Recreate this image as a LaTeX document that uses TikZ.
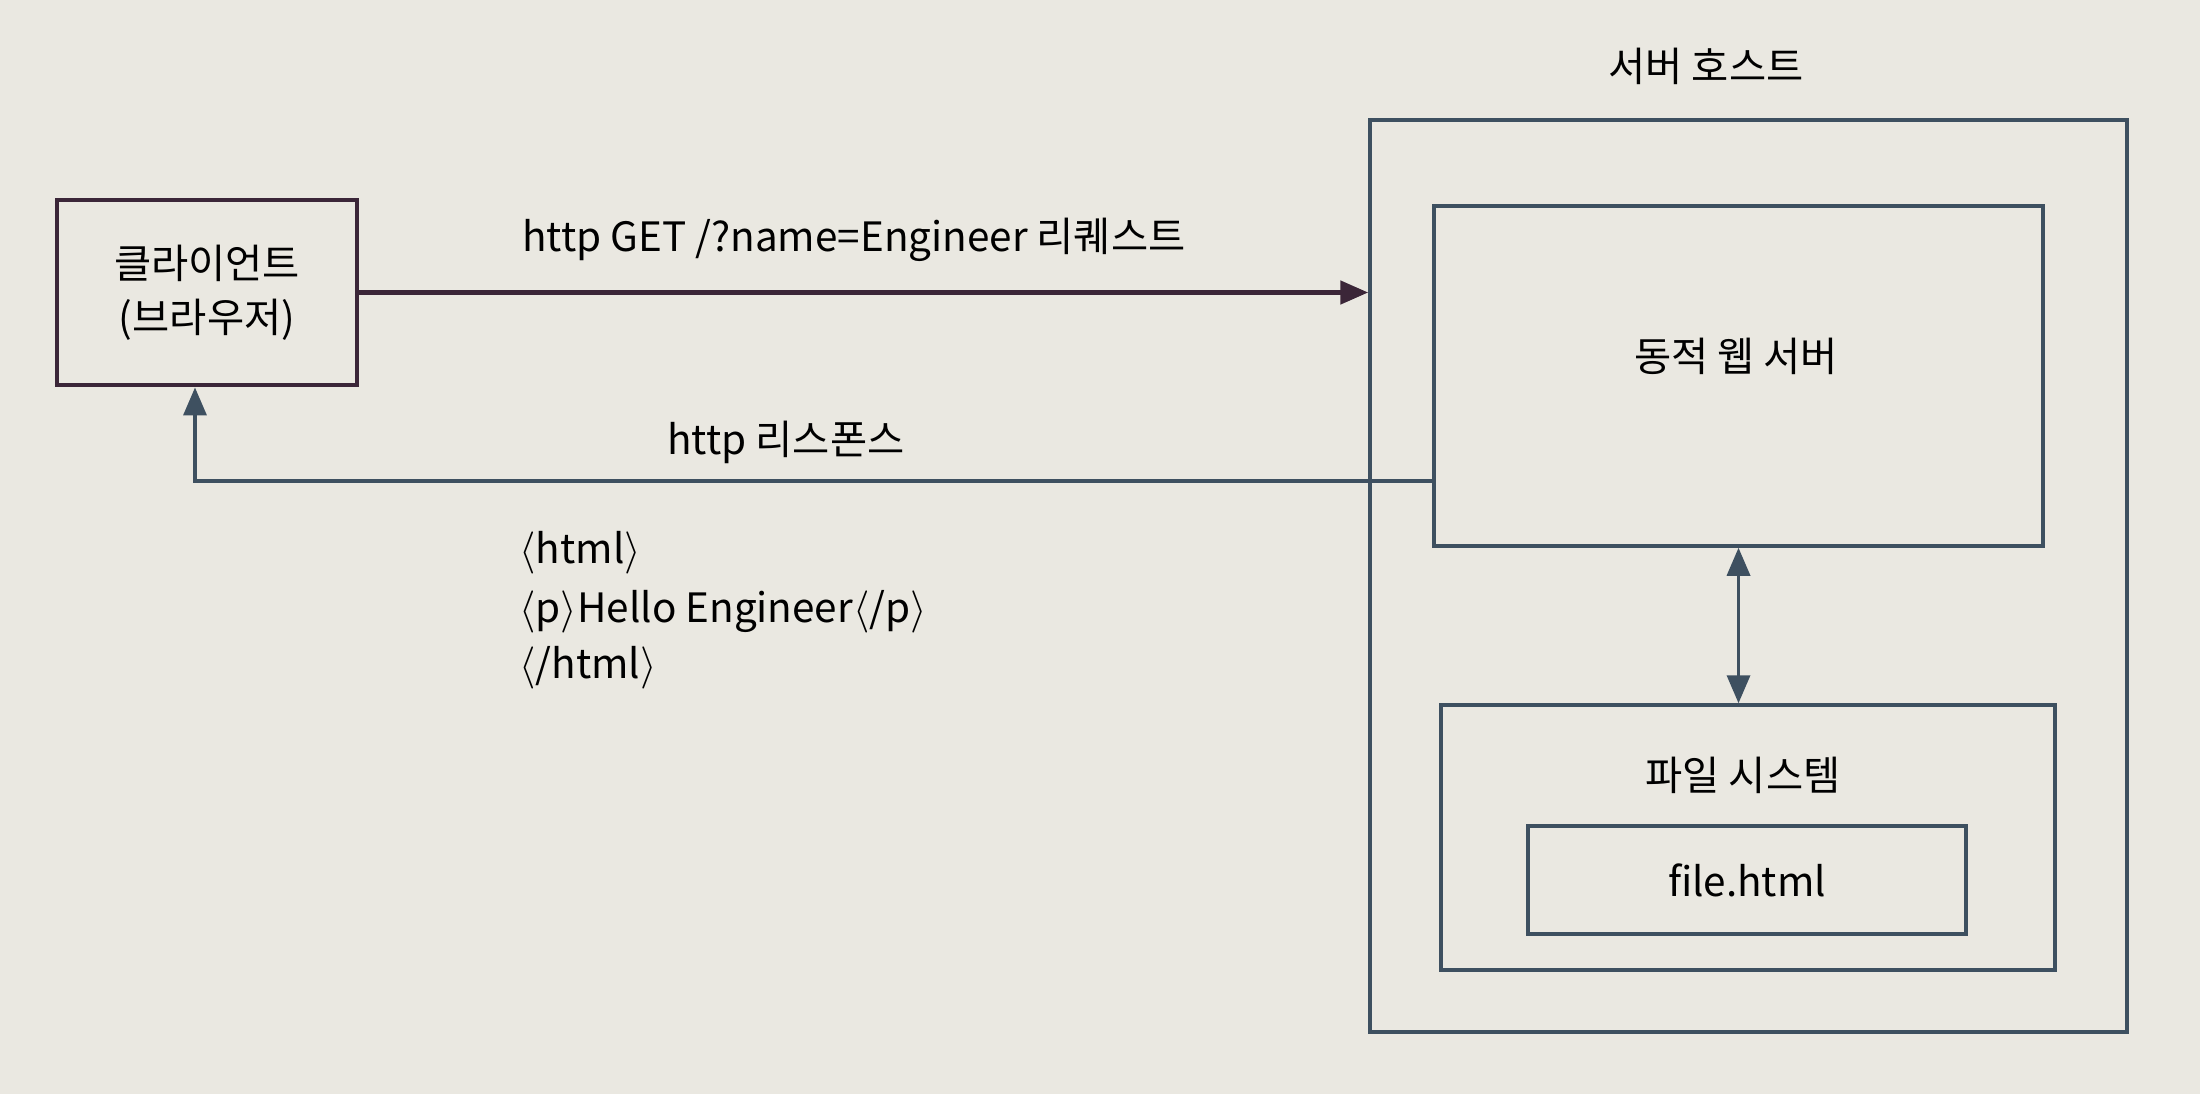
\documentclass[tikz,border=0pt]{standalone}
\usepackage{fontspec}
\setmainfont{Noto Sans CJK KR}
\usepackage{tikz}
\usetikzlibrary{arrows.meta}
\definecolor{clientcol}{HTML}{3B2638}
\definecolor{hostcol}{HTML}{3E5060}
\definecolor{paper}{HTML}{EAE8E1}

\begin{document}
\begin{tikzpicture}[font=\fontsize{11.5pt}{15.5pt}\selectfont,
                clientbox/.style={draw=clientcol, line width=1.4pt, minimum width=3cm, minimum height=1.85cm, align=center},
                hostbox/.style={draw=hostcol, line width=1pt},
                tip/.style={-{Triangle[length=2.8mm,width=2.3mm]}}]
                \fill[paper] (0,0) rectangle (22,-10.94);
                \useasboundingbox (0,0) rectangle (22,-10.94);

                \node[clientbox] (client) at (2.07,-2.925) {클라이언트\\(브라우저)};

                \node[hostbox, minimum width=7.57cm, minimum height=9.12cm] (host) at (17.485,-5.76) {};
                \node (hostlabel) at (17.06,-0.66) {서버 호스트};

                \node[hostbox, minimum width=6.09cm, minimum height=3.4cm] (web) at (17.385,-3.76) {};
                \node (weblabel) at (17.36,-3.56) {동적 웹 서버};

                \node[hostbox, minimum width=6.14cm, minimum height=2.65cm] (fs) at (17.48,-8.375) {};
                \node (fslabel) at (17.43,-7.75) {파일 시스템};
                \node[hostbox, minimum width=4.38cm, minimum height=1.08cm] (file) at (17.47,-8.8) {file.html};

                \draw[tip, clientcol, line width=1.4pt] (client.east) -- (client.east -| host.west);
                \node[anchor=west] (request) at (5.1,-2.4) {http GET /?name=Engineer 리퀘스트};

                \coordinate (turn) at (1.95,-4.81);
                \draw[tip, hostcol, line width=1pt] (turn -| web.west) -- (turn) -- (turn |- client.south);
                \node[anchor=west] (response) at (6.55,-4.42) {http 리스폰스};

                \node[anchor=west] (line1) at (5.07,-5.53) {$\langle$html$\rangle$};
                \node[anchor=west] (line2) at (5.07,-6.12) {$\langle$p$\rangle$Hello Engineer$\langle$/p$\rangle$};
                \node[anchor=west] (line3) at (5.07,-6.68) {$\langle$/html$\rangle$};

                \draw[{Triangle[length=2.8mm,width=2.3mm]}-{Triangle[length=2.8mm,width=2.3mm]}, hostcol, line width=1pt]
                (web.south) -- (web.south |- fs.north);
            \end{tikzpicture}
\end{document}
